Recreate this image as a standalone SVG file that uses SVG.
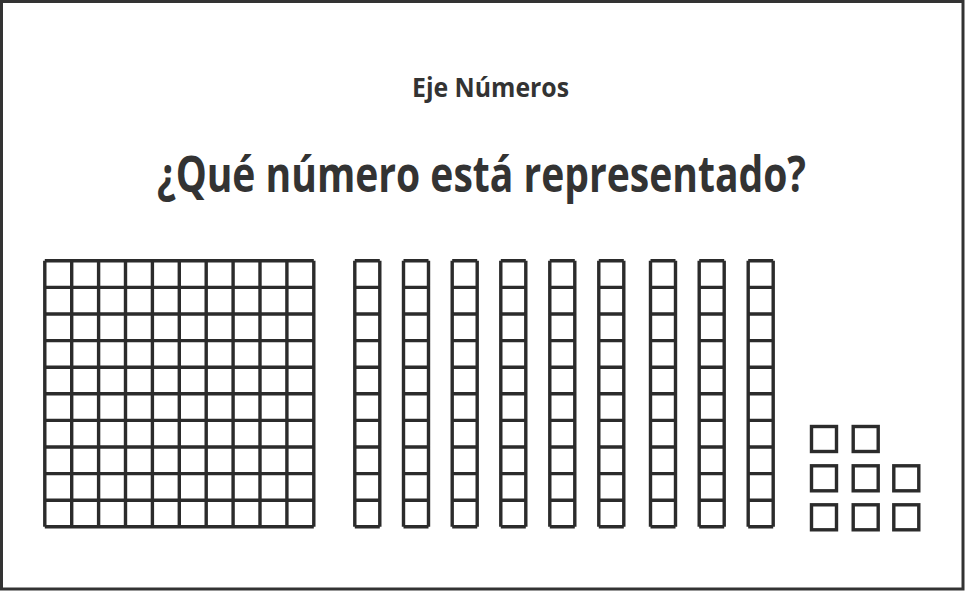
<svg xmlns="http://www.w3.org/2000/svg" width="965" height="591" viewBox="0 0 965 591">
<style>
.t{font-family:"Open Sans","Noto Sans","Liberation Sans",sans-serif;font-weight:bold;fill:#333333}
.b{fill:none;stroke:#2b2b2b;stroke-width:3.4}
</style>
<defs>
<path id="rod" d="M0 260.8H25M0 287.4H25M0 314H25M0 340.6H25M0 367.2H25M0 393.8H25M0 420.4H25M0 447H25M0 473.6H25M0 500.2H25M0 526.8H25M0 260.8V526.8M25 260.8V526.8"/>
</defs>
<rect x="0" y="0" width="965" height="591" fill="#ffffff"/>
<rect x="1.5" y="1.5" width="961.5" height="587.5" fill="none" stroke="#333333" stroke-width="3"/>
<g id="header">
<text class="t" x="412" y="97" font-size="26" textLength="157" lengthAdjust="spacingAndGlyphs">Eje Números</text>
<text class="t" x="157" y="192" font-size="50" textLength="649" lengthAdjust="spacingAndGlyphs">¿Qué número está representado?</text>
</g>
<g id="hundred" class="b">
<path d="M44.8 260.8H313.8M44.8 287.4H313.8M44.8 314H313.8M44.8 340.6H313.8M44.8 367.2H313.8M44.8 393.8H313.8M44.8 420.4H313.8M44.8 447H313.8M44.8 473.6H313.8M44.8 500.2H313.8M44.8 526.8H313.8"/>
<path d="M44.8 260.8V526.8M71.7 260.8V526.8M98.6 260.8V526.8M125.5 260.8V526.8M152.4 260.8V526.8M179.3 260.8V526.8M206.2 260.8V526.8M233.1 260.8V526.8M260 260.8V526.8M286.9 260.8V526.8M313.8 260.8V526.8"/>
</g>
<g id="tens" class="b">
<use href="#rod" x="354.8"/>
<use href="#rod" x="403.5"/>
<use href="#rod" x="452.2"/>
<use href="#rod" x="500.8"/>
<use href="#rod" x="549.8"/>
<use href="#rod" x="598.8"/>
<use href="#rod" x="650.5"/>
<use href="#rod" x="699.2"/>
<use href="#rod" x="748.2"/>
</g>
<g id="units" class="b">
<rect x="811.5" y="426.5" width="25" height="25"/>
<rect x="853.2" y="426.5" width="25" height="25"/>
<rect x="811.5" y="465.8" width="25" height="25"/>
<rect x="853.2" y="465.8" width="25" height="25"/>
<rect x="893.8" y="465.8" width="25" height="25"/>
<rect x="811.5" y="504.8" width="25" height="25"/>
<rect x="853.2" y="504.8" width="25" height="25"/>
<rect x="893.8" y="504.8" width="25" height="25"/>
</g>
</svg>
